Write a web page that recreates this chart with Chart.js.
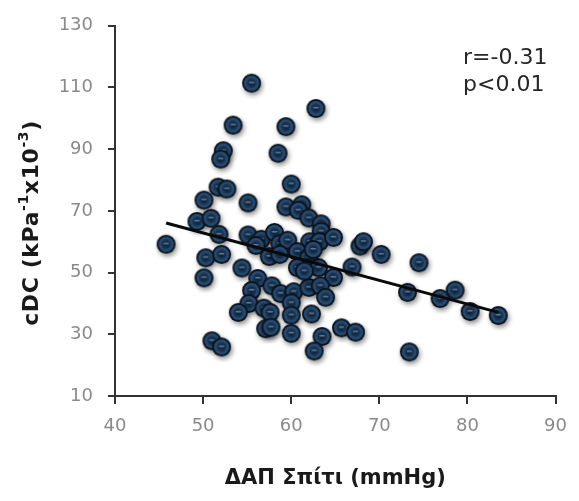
<!DOCTYPE html>
<html>
<head>
<meta charset="utf-8">
<script src="https://cdn.jsdelivr.net/npm/chart.js@4/dist/chart.umd.min.js"></script>
<style>
  html, body { margin: 0; padding: 0; background: #fff; }
  #c { display: block; }
</style>
</head>
<body>
<canvas id="c" width="579" height="501"></canvas>
<script>
// Home diastolic BP (mmHg) for each subject
const dbpHome = [
  55.5, 62.8, 53.4, 59.4, 52.3, 52.0, 58.5, 60.0, 51.7, 52.7,
  50.1, 55.1, 59.4, 61.2, 60.8, 49.3, 50.9, 62.0, 63.4, 63.4,
  45.8, 51.8, 55.1, 56.6, 58.1, 56.0, 58.7, 59.6, 62.1, 63.2,
  64.8, 67.8, 68.2, 70.2, 74.5, 50.3, 52.1, 57.5, 58.7, 60.7,
  62.0, 60.7, 63.1, 66.9, 54.4, 50.1, 64.8, 56.2, 55.5, 57.8,
  58.8, 60.3, 62.0, 63.3, 73.2, 78.6, 76.9, 63.9, 55.2, 56.9,
  60.0, 54.0, 57.6, 60.0, 62.3, 80.3, 83.5, 57.1, 57.7, 60.0,
  65.7, 67.3, 63.5, 51.0, 52.1, 62.6, 73.4, 61.5, 62.5
];
// Carotid distensibility coefficient (kPa^-1 x10^-3) for each subject
const cdc = [
  111.4, 103.2, 97.8, 97.3, 89.5, 86.8, 88.7, 78.7, 77.7, 77.1,
  73.5, 72.6, 71.3, 72.0, 70.2, 66.6, 67.6, 67.7, 65.8, 63.4,
  59.2, 62.4, 62.2, 60.8, 63.0, 58.8, 59.4, 60.5, 60.0, 60.0,
  61.4, 58.6, 60.0, 55.9, 53.2, 54.8, 55.9, 55.2, 55.9, 56.8,
  54.9, 51.6, 51.6, 51.8, 51.5, 48.3, 48.4, 48.1, 44.2, 45.7,
  43.2, 43.8, 45.2, 45.7, 43.6, 44.3, 41.6, 42.0, 40.0, 38.5,
  40.2, 37.1, 37.1, 36.2, 36.6, 37.4, 36.1, 31.8, 32.3, 30.3,
  32.1, 30.7, 29.3, 27.9, 25.9, 24.6, 24.3, 50.5, 57.5
];
// Least-squares fit line end points
const fitX = [45.8, 83.5];
const fitY = [66.1, 37.1];

// Axis ticks
const xTicks = [40, 50, 60, 70, 80, 90];
const yTicks = [10, 30, 50, 70, 90, 110, 130];

const xTitle = 'ΔΑΠ Σπίτι (mmHg)';
const yTitleParts = [['cDC (kPa', false], ['-1', true], ['x10', false], ['-3', true], [')', false]];
const statLines = ['r=-0.31', 'p<0.01'];

// Glossy bead used as the point marker
function makeBead(r) {
  const pad = 6;
  const size = Math.ceil(2 * (r + pad));
  const cv = document.createElement('canvas');
  cv.width = size; cv.height = size;
  const g = cv.getContext('2d');
  const cx = size / 2, cy = size / 2;
  g.save();
  g.shadowColor = 'rgba(0,0,0,0.45)';
  g.shadowBlur = 5;
  g.shadowOffsetX = 1.5;
  g.shadowOffsetY = 2.5;
  g.beginPath(); g.arc(cx, cy, r, 0, Math.PI * 2);
  g.fillStyle = '#0a121c'; g.fill();
  g.restore();
  const rg = g.createRadialGradient(cx, cy, 0, cx, cy, r - 1.7);
  rg.addColorStop(0, '#0c1c2e');
  rg.addColorStop(0.45, '#15304d');
  rg.addColorStop(0.82, '#2a4f76');
  rg.addColorStop(1, '#1a3553');
  g.beginPath(); g.arc(cx, cy, r - 1.7, 0, Math.PI * 2);
  g.fillStyle = rg; g.fill();
  g.beginPath(); g.ellipse(cx, cy - 0.8, 3, 1, 0, 0, Math.PI * 2);
  g.fillStyle = 'rgba(140,168,196,0.6)'; g.fill();
  return cv;
}
const bead = makeBead(9.5);

const points = dbpHome.map((x, i) => ({ x: x, y: cdc[i] }));
const fitLine = fitX.map((x, i) => ({ x: x, y: fitY[i] }));

// Rotated y-axis title with raised exponents, plus the correlation note
const annotations = {
  id: 'annotations',
  afterDraw(chart) {
    const ctx = chart.ctx;
    ctx.save();
    const big = 'bold 22px "DejaVu Sans"';
    const small = 'bold 14px "DejaVu Sans"';
    if ('letterSpacing' in ctx) ctx.letterSpacing = '0.6px';
    let total = 0;
    yTitleParts.forEach(([t, sup]) => { ctx.font = sup ? small : big; total += ctx.measureText(t).width; });
    ctx.translate(32, 223);
    ctx.rotate(-Math.PI / 2);
    ctx.fillStyle = '#1a1a1a';
    ctx.textBaseline = 'middle';
    let x = -total / 2;
    yTitleParts.forEach(([t, sup]) => {
      ctx.font = sup ? small : big;
      ctx.fillText(t, x, sup ? -8 : 0);
      x += ctx.measureText(t).width;
    });
    ctx.restore();

    ctx.save();
    ctx.font = '22px "DejaVu Sans"';
    ctx.fillStyle = '#262626';
    ctx.textBaseline = 'alphabetic';
    ctx.fillText(statLines[0], 463, 64);
    ctx.fillText(statLines[1], 463, 91);
    ctx.restore();
  }
};

new Chart(document.getElementById('c'), {
  type: 'scatter',
  data: {
    datasets: [
      {
        type: 'line',
        data: fitLine,
        borderColor: '#0a0a0a',
        borderWidth: 3,
        pointRadius: 0,
        fill: false,
        order: 0
      },
      {
        data: points,
        pointStyle: bead,
        pointRadius: 9.5,
        order: 1
      }
    ]
  },
  options: {
    responsive: false,
    animation: false,
    events: [],
    layout: { padding: { top: 23, right: 17, bottom: 0, left: 0 } },
    plugins: { legend: { display: false }, tooltip: { enabled: false } },
    scales: {
      x: {
        type: 'linear',
        min: xTicks[0], max: xTicks[xTicks.length - 1],
        afterBuildTicks(s) { s.ticks = xTicks.map(v => ({ value: v })); },
        afterFit(s) { s.height = 105; },
        ticks: { color: '#8a8a8a', font: { family: 'DejaVu Sans', size: 18 }, padding: 12 },
        grid: { drawOnChartArea: false, drawTicks: true, tickLength: 8, color: '#333', lineWidth: 2 },
        border: { color: '#333', width: 2 },
        title: {
          display: true, text: xTitle, color: '#1a1a1a',
          font: { family: 'DejaVu Sans', size: 21, weight: 'bold' },
          padding: { top: 0, bottom: 10 }
        }
      },
      y: {
        type: 'linear',
        min: yTicks[0], max: yTicks[yTicks.length - 1],
        afterBuildTicks(s) { s.ticks = yTicks.map(v => ({ value: v })); },
        afterFit(s) { s.width = 115; },
        ticks: { color: '#8a8a8a', font: { family: 'DejaVu Sans', size: 18 }, padding: 15 },
        grid: { drawOnChartArea: false, drawTicks: true, tickLength: 7, color: '#333', lineWidth: 2 },
        border: { color: '#333', width: 2 }
      }
    }
  },
  plugins: [annotations]
});
</script>
</body>
</html>
